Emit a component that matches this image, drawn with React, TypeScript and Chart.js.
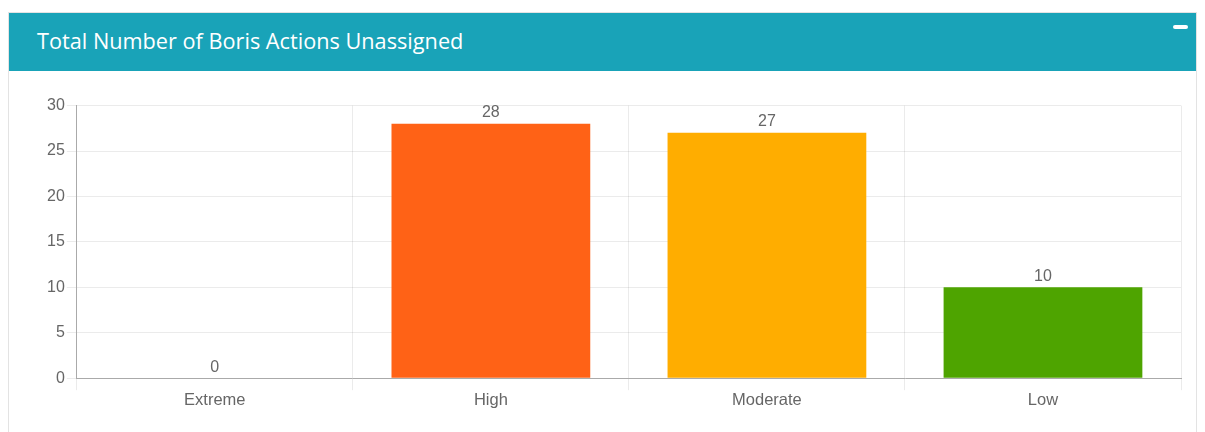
import React, { useEffect, useRef } from "react";
import { Chart, registerables } from "chart.js";

Chart.register(...registerables);

const title = "Total Number of Boris Actions Unassigned";
const categories = ["Extreme", "High", "Moderate", "Low"];
const values = [0, 28, 27, 10];
const barColors = ["#e03b1f", "#ff6216", "#ffad00", "#4ea400"];
const yTicks = [0, 5, 10, 15, 20, 25, 30];

const FONT = "'Liberation Sans', Arial, sans-serif";

const valueLabels = {
  id: "valueLabels",
  afterDatasetsDraw(chart: any) {
    const ctx = chart.ctx;
    ctx.save();
    ctx.font = `16px ${FONT}`;
    ctx.fillStyle = "#666";
    ctx.textAlign = "center";
    ctx.textBaseline = "bottom";
    chart.data.datasets.forEach((ds: any, i: number) => {
      const meta = chart.getDatasetMeta(i);
      meta.data.forEach((bar: any, j: number) => {
        ctx.fillText(String(ds.data[j]), bar.x, bar.y - 3);
      });
    });
    ctx.restore();
  },
};

export default function App() {
  const ref = useRef<HTMLCanvasElement>(null);
  useEffect(() => {
    if (!ref.current) return;
    const chart = new Chart(ref.current, {
      type: "bar",
      data: {
        labels: categories,
        datasets: [
          {
            data: values,
            backgroundColor: barColors,
            borderWidth: 0,
          },
        ],
      },
      options: {
        animation: false,
        responsive: true,
        maintainAspectRatio: false,
        layout: { padding: { left: 0, right: 2, top: 0, bottom: 0 } },
        plugins: { legend: { display: false }, tooltip: { enabled: false } },
        scales: {
          x: {
            grid: { color: "rgba(0,0,0,0.08)", tickLength: 12 },
            border: { color: "#aaa" },
            ticks: {
              color: "#666",
              padding: 0,
              font: { family: FONT, size: 16.5 },
            },
          },
          y: {
            min: 0,
            max: 30,
            afterBuildTicks: (axis: any) => {
              axis.ticks = yTicks.map((v) => ({ value: v }));
            },
            grid: { color: "rgba(0,0,0,0.08)", tickLength: 10 },
            border: { color: "#aaa" },
            ticks: {
              color: "#666",
              padding: 2,
              font: { family: FONT, size: 16 },
            },
          },
        },
      },
      plugins: [valueLabels],
    });
    return () => chart.destroy();
  }, []);

  return (
    <div style={{ position: "relative", width: 1189, height: 424 }}>
      <div
        style={{
          position: "absolute",
          left: 0,
          top: 4,
          width: 1189,
          height: 440,
          border: "1px solid #e3e3e3",
          boxSizing: "border-box",
          background: "#fff",
        }}
      >
        <div
          style={{
            height: 58,
            background: "#19a3b8",
            position: "relative",
            color: "#fff",
            fontFamily: "'Open Sans', sans-serif",
            fontSize: 21.7,
            fontWeight: 500,
          }}
        >
          <div style={{ position: "absolute", left: 28, top: 13, whiteSpace: "nowrap" }}>{title}</div>
          <div
            style={{
              position: "absolute",
              left: 1164,
              top: 12,
              width: 15,
              height: 4,
              borderRadius: 2,
              background: "#fff",
            }}
          />
        </div>
      </div>
      <div style={{ position: "absolute", left: 37, top: 86, width: 1138, height: 316 }}>
        <canvas ref={ref} />
      </div>
    </div>
  );
}
